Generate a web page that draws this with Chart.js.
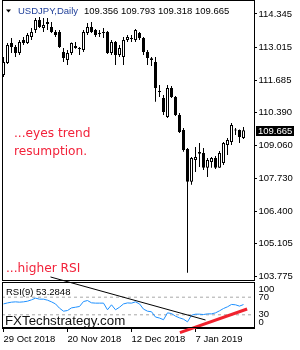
<!DOCTYPE html>
<html>
<head>
<meta charset="utf-8">
<script src="https://cdn.jsdelivr.net/npm/chart.js@4.4.1/dist/chart.umd.min.js"></script>
<style>
html,body{margin:0;padding:0;background:#fff;}
#wrap{position:relative;width:300px;height:350px;overflow:hidden;background:#fff;}
#price{position:absolute;left:0;top:0;width:300px;height:281px;}
#rsi{position:absolute;left:0;top:268px;width:300px;height:82px;}
</style>
</head>
<body>
<div id="wrap">
  <canvas id="price" width="300" height="281"></canvas>
  <canvas id="rsi" width="300" height="82"></canvas>
</div>
<script>
// --- данные ---
const symbol    = 'USDJPY';
const timeframe = 'Daily';

const dates = [
  '29 Oct 2018','30 Oct 2018','31 Oct 2018','1 Nov 2018','2 Nov 2018',
  '5 Nov 2018','6 Nov 2018','7 Nov 2018','8 Nov 2018','9 Nov 2018',
  '12 Nov 2018','13 Nov 2018','14 Nov 2018','15 Nov 2018','16 Nov 2018',
  '19 Nov 2018','20 Nov 2018','21 Nov 2018','22 Nov 2018','23 Nov 2018',
  '26 Nov 2018','27 Nov 2018','28 Nov 2018','29 Nov 2018','30 Nov 2018',
  '3 Dec 2018','4 Dec 2018','5 Dec 2018','6 Dec 2018','7 Dec 2018',
  '10 Dec 2018','11 Dec 2018','12 Dec 2018','13 Dec 2018','14 Dec 2018',
  '17 Dec 2018','18 Dec 2018','19 Dec 2018','20 Dec 2018','21 Dec 2018',
  '24 Dec 2018','26 Dec 2018','27 Dec 2018','28 Dec 2018','31 Dec 2018',
  '2 Jan 2019','3 Jan 2019','4 Jan 2019','7 Jan 2019','8 Jan 2019',
  '9 Jan 2019','10 Jan 2019','11 Jan 2019','14 Jan 2019','15 Jan 2019',
  '16 Jan 2019','17 Jan 2019','18 Jan 2019','21 Jan 2019','22 Jan 2019',
  '23 Jan 2019'
];

const open = [
  111.892,112.375,113.179,113.018,112.777,113.300,113.179,113.420,113.702,114.104,
  113.782,114.020,113.822,113.621,113.621,112.817,112.495,112.777,113.060,112.978,
  112.898,113.581,113.822,113.702,113.580,113.580,113.621,112.777,113.219,112.696,
  112.616,113.300,113.380,113.300,113.581,113.380,112.817,112.560,112.415,111.250,
  110.967,110.204,111.370,111.008,110.284,109.681,108.917,107.590,108.474,108.720,
  108.756,108.153,108.394,108.555,108.153,108.354,109.078,109.198,109.700,109.681,
  109.356
];
const high = [
  112.616,113.179,113.380,113.099,113.300,113.420,113.581,113.782,114.184,114.224,
  114.184,114.184,114.020,113.700,113.700,112.978,112.898,113.200,113.219,113.020,
  113.702,113.983,114.020,113.740,113.700,113.780,113.660,113.300,113.260,113.099,
  113.420,113.501,113.501,113.740,113.621,113.420,112.898,112.616,112.616,111.490,
  111.090,111.490,111.450,111.050,110.360,109.760,108.957,108.595,108.997,109.158,
  108.957,108.555,108.595,108.635,108.836,109.198,109.360,109.960,109.760,109.700,
  109.793
];
const low = [
  111.812,112.335,112.777,112.616,112.696,113.099,113.140,113.300,113.581,113.782,
  113.621,113.700,113.581,113.420,112.978,112.415,112.294,112.696,112.950,112.696,
  112.817,113.501,113.581,113.420,113.420,113.380,112.740,112.696,112.294,112.616,
  112.294,113.219,113.219,113.219,113.300,112.696,112.294,112.250,110.810,111.008,
  110.284,110.160,110.967,110.240,109.560,108.800,103.931,107.469,107.990,108.193,
  108.070,107.790,108.153,108.110,108.153,108.273,108.676,109.078,109.480,109.158,
  109.318
];
const close = [
  112.415,113.099,113.018,112.777,113.219,113.179,113.501,113.621,114.104,113.822,
  113.903,113.940,113.621,113.501,113.018,112.576,112.777,113.179,112.980,112.940,
  113.621,113.822,113.621,113.501,113.540,113.620,112.777,113.219,112.696,112.978,
  113.300,113.420,113.340,113.702,113.380,112.817,112.576,112.495,111.370,111.209,
  110.405,111.370,111.008,110.284,109.600,108.877,107.590,108.555,108.595,108.790,
  108.153,108.474,108.555,108.153,108.756,109.158,109.279,109.882,109.660,109.399,
  109.665
];

const rsi = [
  54.7,57.0,58.7,59.4,58.7,59.4,60.9,64.0,67.8,65.5,
  65.5,63.2,59.4,54.7,45.0,38.2,39.7,45.7,47.2,48.9,
  60.1,62.4,57.2,56.5,56.5,56.5,41.4,52.7,41.4,47.2,
  54.7,57.0,56.5,59.4,54.7,42.9,38.2,36.9,24.9,22.6,
  18.8,34.4,32.9,26.8,23.1,20.0,14.0,29.1,31.4,31.4,
  30.6,32.1,32.1,34.4,39.0,44.3,48.2,53.5,52.7,49.7,
  53.2848
];

const priceTicks   = [114.345,113.015,111.685,110.390,109.060,107.730,106.400,105.105,103.775];
const dateTickIdx  = [0,16,32,48];
const rsiLevels    = [70,30];
const rsiTickPos   = [88.6,70,30,13.6];
const rsiTickLabel = ['100','70','30','0'];

// трендовые линии на RSI (индекс свечи, значение RSI)
const rsiDownLine = [{x:11.75,y:115.9},{x:50.5,y:18.2}];
const rsiUpLine   = [{x:44.1,y:-10.7},{x:60.9,y:43.2}];

const notes = ['...eyes trend','resumption.','...higher RSI'];

// --- оси ---
const xMin = -0.375, xMax = 62.625;
const priceMin = 103.601, priceMax = 114.908;
const rsiMin = 0, rsiMax = 104.5;

const axisFont = {family:"'Liberation Sans', Arial, sans-serif", size:9.5};
const last = close.length-1;

const bodies = open.map((o,i)=>({x:i, y:[o, close[i]]}));
const bodyColors = open.map((o,i)=> close[i]>=o ? '#fff' : '#000');
const wicks = low.map((l,i)=>({x:i, y:[l, high[i]]}));

// рамка панели
const framePlugin = {
  id:'frame',
  afterDraw(chart){
    const {ctx, chartArea:a} = chart;
    ctx.save();
    ctx.strokeStyle='#000'; ctx.lineWidth=1;
    ctx.beginPath();
    ctx.moveTo(Math.round(a.left)+0.5, Math.round(a.top));
    ctx.lineTo(Math.round(a.left)+0.5, Math.round(a.bottom));
    ctx.moveTo(Math.round(a.left), Math.round(a.top)+0.5);
    ctx.lineTo(Math.round(a.right), Math.round(a.top)+0.5);
    ctx.moveTo(Math.round(a.left), Math.round(a.bottom)-0.5);
    ctx.lineTo(Math.round(a.right), Math.round(a.bottom)-0.5);
    ctx.stroke();
    ctx.restore();
  }
};

const pricePlugin = {
  id:'priceText',
  afterDraw(chart){
    const ctx = chart.ctx;
    const y = chart.scales.y;
    ctx.save();
    // заголовок
    ctx.fillStyle='#000';
    ctx.beginPath();
    ctx.moveTo(6,9.5); ctx.lineTo(11,9.5); ctx.lineTo(8.5,12.5); ctx.closePath(); ctx.fill();
    ctx.font="9.5px 'Liberation Sans', Arial, sans-serif";
    ctx.textBaseline='middle';
    const title = symbol+','+timeframe;
    ctx.fillStyle='#1f3f99';
    ctx.fillText(title, 18, 11.5);
    const ohlc = [open[last],high[last],low[last],close[last]].map(v=>v.toFixed(3)).join(' ');
    ctx.fillStyle='#000';
    ctx.fillText(ohlc, 18+ctx.measureText(title).width+6, 11.5);

    // метка текущей цены
    const py = Math.round(y.getPixelForValue(close[last]));
    ctx.fillStyle='#000';
    ctx.fillRect(256, py-4, 38, 10);
    ctx.fillStyle='#fff';
    ctx.fillText(close[last].toFixed(3), 258, py+1);

    // комментарии
    ctx.font="12.2px 'DejaVu Sans', sans-serif";
    ctx.textBaseline='alphabetic';
    ctx.fillStyle='#f2223a';
    ctx.fillText(notes[0], 14, 137.3);
    ctx.fillText(notes[1], 14, 155.3);
    ctx.fillText(notes[2], 6, 271.5);
    ctx.restore();
  }
};

const rsiPlugin = {
  id:'rsiText',
  afterDraw(chart){
    const ctx = chart.ctx;
    ctx.save();
    ctx.fillStyle='#000';
    ctx.font="9.5px 'Liberation Sans', Arial, sans-serif";
    ctx.textBaseline='middle';
    ctx.fillText('RSI(9) '+rsi[last].toFixed(4), 6, 24);
    ctx.font="13.3px 'Liberation Sans', Arial, sans-serif";
    ctx.textBaseline='alphabetic';
    ctx.fillStyle='#111';
    ctx.fillText('FXTechstrategy.com', 5, 57.3);
    ctx.restore();
  }
};

new Chart(document.getElementById('price'), {
  type:'bar',
  data:{
    datasets:[
      {data:bodies, backgroundColor:bodyColors, borderColor:'#000', borderWidth:1, borderSkipped:false,
       barThickness:3, minBarLength:1, grouped:false, inflateAmount:0, order:0},
      {data:wicks, backgroundColor:'#000', borderWidth:0, barThickness:1, grouped:false, inflateAmount:0, order:1}
    ]
  },
  options:{
    responsive:false, animation:false, devicePixelRatio:1,
    layout:{padding:{left:2, top:0, right:0, bottom:0}},
    plugins:{legend:{display:false}, tooltip:{enabled:false}},
    scales:{
      x:{type:'linear', min:xMin, max:xMax, display:false, offset:false},
      y:{
        position:'right', min:priceMin, max:priceMax,
        afterBuildTicks(s){ s.ticks = priceTicks.map(v=>({value:v})); },
        afterFit(s){ s.width=46; s.paddingTop=0; s.paddingBottom=0; },
        ticks:{autoSkip:false, color:'#000', font:axisFont, padding:1.5, callback:v=>v.toFixed(3)},
        grid:{drawOnChartArea:false, color:'#000', tickLength:3},
        border:{color:'#000'}
      }
    }
  },
  plugins:[framePlugin, pricePlugin]
});

new Chart(document.getElementById('rsi'), {
  type:'line',
  data:{
    datasets:[
      {data:rsi.map((v,i)=>({x:i,y:v})), borderColor:'#1e90ff', borderWidth:1, pointRadius:0, tension:0, order:2},
      {data:[{x:xMin,y:rsiLevels[0]},{x:xMax,y:rsiLevels[0]}], borderColor:'#a8a8a8', borderWidth:1, borderDash:[3,3], pointRadius:0, order:3},
      {data:[{x:xMin,y:rsiLevels[1]},{x:xMax,y:rsiLevels[1]}], borderColor:'#a8a8a8', borderWidth:1, borderDash:[3,3], pointRadius:0, order:3},
      {data:rsiDownLine, borderColor:'#000', borderWidth:1, pointRadius:0, clip:false, order:1},
      {data:rsiUpLine, borderColor:'#f0222e', borderWidth:3, pointRadius:0, clip:false, order:0}
    ]
  },
  options:{
    responsive:false, animation:false, devicePixelRatio:1,
    layout:{padding:{left:2, top:14, right:0, bottom:0}},
    plugins:{legend:{display:false}, tooltip:{enabled:false}},
    scales:{
      x:{
        type:'linear', min:xMin, max:xMax, offset:false,
        afterBuildTicks(s){ s.ticks = dateTickIdx.map(v=>({value:v})); },
        afterFit(s){ s.height=22; s.paddingLeft=0; s.paddingRight=0; },
        ticks:{autoSkip:false, maxRotation:0, align:'start', padding:1.5, color:'#000', font:axisFont,
               callback:v=>dates[v]},
        grid:{drawOnChartArea:false, color:'#000', tickLength:4},
        border:{color:'#000'}
      },
      y:{
        position:'right', min:rsiMin, max:rsiMax,
        afterBuildTicks(s){ s.ticks = rsiTickPos.map(v=>({value:v})); },
        afterFit(s){ s.width=46; s.paddingTop=0; s.paddingBottom=0; },
        ticks:{autoSkip:false, color:'#000', font:axisFont, padding:4.5, callback:(v,i)=>rsiTickLabel[i]},
        grid:{drawOnChartArea:false, drawTicks:false},
        border:{color:'#000'}
      }
    }
  },
  plugins:[framePlugin, rsiPlugin]
});
</script>
</body>
</html>
